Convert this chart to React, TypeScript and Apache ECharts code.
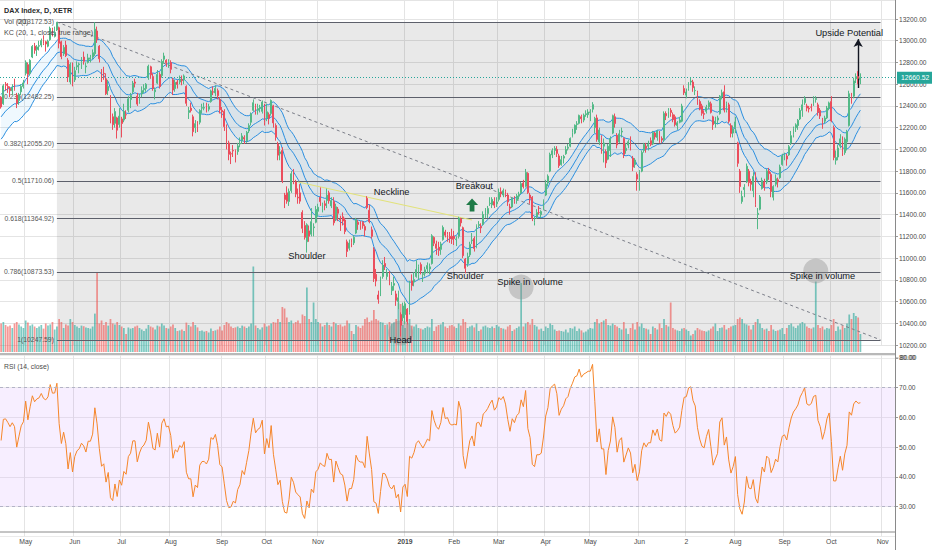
import React, { useEffect, useRef } from "react";
import * as echarts from "echarts";

const FONT = "'Liberation Sans', Arial, sans-serif";

// ---------- calendar ----------
const firstSession = "2018-04-16";
const sessionCount = 401;
const exchangeHolidays = [
  "2018-05-01", "2018-12-24", "2018-12-25", "2018-12-26", "2018-12-31",
  "2019-01-01", "2019-04-19", "2019-04-22", "2019-05-01",
];

// ---------- candles: [open, close, low, high] ----------
const apr2018 = [
  [12480, 12391, 12375, 12490], [12420, 12585, 12410, 12600], [12600, 12590, 12540, 12620],
  [12580, 12567, 12520, 12610], [12560, 12540, 12480, 12580], [12540, 12572, 12500, 12600],
  [12610, 12550, 12540, 12650], [12500, 12422, 12380, 12520], [12450, 12500, 12410, 12520],
  [12530, 12580, 12500, 12600], [12580, 12612, 12560, 12640],
];
const may2018 = [
  [12700, 12802, 12680, 12820], [12780, 12690, 12600, 12800], [12700, 12820, 12680, 12830],
  [12850, 12948, 12840, 12960], [12950, 12912, 12880, 12980], [12920, 12943, 12860, 12960],
  [12950, 12955, 12910, 13000], [12960, 13001, 12940, 13020], [13010, 12977, 12960, 13050],
  [12990, 12970, 12900, 13000], [12950, 12996, 12940, 13010], [13010, 13114, 13000, 13130],
  [13100, 13077, 13040, 13120], [13040, 13078, 13030, 13130], [13100, 13169, 13090, 13172],
  [13120, 12977, 12930, 13130], [12990, 12855, 12830, 13000], [12880, 12938, 12860, 12960],
  [12960, 12863, 12850, 13000], [12820, 12666, 12620, 12840], [12620, 12783, 12600, 12800],
  [12740, 12605, 12580, 12800],
];
const jun2018 = [
  [12640, 12724, 12620, 12760], [12760, 12771, 12730, 12810], [12780, 12787, 12700, 12800],
  [12800, 12830, 12740, 12850], [12850, 12811, 12780, 12900], [12760, 12767, 12700, 12800],
  [12800, 12842, 12790, 12880], [12830, 12842, 12800, 12870], [12850, 12890, 12830, 12920],
  [12880, 13107, 12860, 13170], [13090, 13010, 12980, 13130], [12950, 12834, 12800, 12960],
  [12700, 12677, 12620, 12740], [12700, 12695, 12640, 12760], [12650, 12512, 12500, 12700],
  [12540, 12580, 12500, 12640], [12490, 12270, 12240, 12500], [12300, 12228, 12180, 12330],
  [12240, 12348, 12200, 12380], [12290, 12177, 12100, 12300], [12230, 12306, 12200, 12380],
];
const jul2018 = [
  [12280, 12238, 12110, 12300], [12270, 12349, 12250, 12420], [12320, 12317, 12280, 12360],
  [12360, 12465, 12340, 12490], [12460, 12496, 12380, 12520], [12530, 12609, 12510, 12630],
  [12620, 12609, 12570, 12650], [12490, 12417, 12400, 12520], [12440, 12492, 12420, 12510],
  [12510, 12541, 12480, 12580], [12550, 12561, 12520, 12600], [12560, 12600, 12530, 12610],
  [12660, 12765, 12640, 12780], [12760, 12686, 12650, 12770], [12670, 12561, 12540, 12700],
  [12530, 12548, 12460, 12570], [12610, 12690, 12600, 12730], [12690, 12579, 12560, 12710],
  [12680, 12810, 12660, 12830], [12830, 12860, 12790, 12890], [12820, 12798, 12760, 12830],
  [12780, 12806, 12750, 12830],
];
const aug2018 = [
  [12800, 12737, 12700, 12820], [12640, 12546, 12500, 12660], [12560, 12616, 12530, 12640],
  [12620, 12598, 12560, 12640], [12620, 12648, 12600, 12680], [12640, 12633, 12590, 12680],
  [12640, 12676, 12600, 12690], [12580, 12424, 12400, 12590], [12340, 12358, 12280, 12390],
  [12380, 12358, 12340, 12430], [12300, 12163, 12120, 12320], [12200, 12237, 12150, 12270],
  [12240, 12210, 12160, 12260], [12250, 12358, 12230, 12370], [12380, 12384, 12330, 12420],
  [12380, 12385, 12360, 12430], [12400, 12365, 12340, 12430], [12370, 12394, 12350, 12420],
  [12440, 12538, 12430, 12550], [12530, 12527, 12500, 12580], [12520, 12561, 12490, 12590],
  [12540, 12494, 12460, 12560], [12460, 12364, 12330, 12480],
];
const sep2018 = [
  [12360, 12346, 12290, 12390], [12350, 12210, 12170, 12370], [12200, 12040, 12000, 12230],
  [12060, 11955, 11900, 12080], [11960, 11959, 11865, 11980], [11990, 11986, 11930, 12040],
  [11990, 11970, 11880, 12000], [11980, 12032, 11950, 12060], [12050, 12055, 12020, 12110],
  [12080, 12124, 12050, 12150], [12110, 12096, 12050, 12130], [12080, 12157, 12060, 12170],
  [12170, 12219, 12150, 12240], [12250, 12326, 12220, 12340], [12360, 12430, 12350, 12460],
  [12400, 12350, 12320, 12420], [12360, 12374, 12320, 12420], [12380, 12385, 12340, 12410],
  [12350, 12435, 12330, 12450], [12380, 12246, 12220, 12420],
];
const oct2018 = [
  [12290, 12346, 12260, 12420], [12320, 12287, 12230, 12340], [12330, 12450, 12310, 12460],
  [12400, 12244, 12200, 12410], [12220, 12111, 12080, 12240], [12050, 11947, 11900, 12070],
  [11960, 11977, 11900, 12030], [11990, 11712, 11690, 12020], [11580, 11539, 11460, 11600],
  [11600, 11523, 11500, 11660], [11520, 11614, 11480, 11640], [11620, 11776, 11600, 11800],
  [11770, 11715, 11680, 11820], [11700, 11589, 11560, 11720], [11560, 11553, 11500, 11640],
  [11600, 11524, 11500, 11680], [11420, 11274, 11230, 11440], [11300, 11191, 11170, 11340],
  [11150, 11307, 11050, 11320], [11250, 11201, 11150, 11300], [11220, 11335, 11200, 11460],
  [11280, 11287, 11200, 11320], [11330, 11447, 11320, 11480],
];
const nov2018 = [
  [11430, 11468, 11380, 11500], [11560, 11519, 11480, 11650], [11460, 11495, 11420, 11510],
  [11500, 11484, 11440, 11530], [11530, 11579, 11460, 11640], [11600, 11527, 11500, 11620],
  [11480, 11529, 11460, 11560], [11520, 11325, 11300, 11560], [11360, 11472, 11340, 11500],
  [11450, 11412, 11340, 11470], [11360, 11353, 11250, 11390], [11380, 11341, 11300, 11420],
  [11350, 11244, 11220, 11370], [11150, 11061, 11010, 11170], [11090, 11138, 11070, 11170],
  [11140, 11138, 11100, 11180], [11140, 11192, 11120, 11210], [11230, 11354, 11220, 11370],
  [11330, 11310, 11260, 11350], [11310, 11298, 11260, 11340], [11330, 11298, 11270, 11340],
  [11290, 11257, 11200, 11310],
];
const dec2018 = [
  [11550, 11465, 11450, 11570], [11440, 11335, 11320, 11490], [11260, 11200, 11180, 11290],
  [11080, 10811, 10780, 11100], [10850, 10788, 10740, 10900], [10660, 10622, 10580, 10700],
  [10680, 10780, 10650, 10830], [10830, 10931, 10810, 10980], [10950, 10925, 10890, 11010],
  [10830, 10865, 10800, 10900], [10850, 10772, 10750, 10880], [10700, 10740, 10660, 10780],
  [10750, 10766, 10700, 10830], [10670, 10611, 10560, 10700], [10600, 10634, 10530, 10700],
  [10480, 10382, 10279, 10500], [10450, 10559, 10420, 10590],
];
const jan2019 = [
  [10480, 10580, 10390, 10600], [10530, 10416, 10390, 10540], [10500, 10768, 10480, 10790],
  [10790, 10747, 10700, 10850], [10780, 10803, 10740, 10870], [10830, 10894, 10820, 10980],
  [10850, 10921, 10800, 10940], [10940, 10887, 10850, 10960], [10850, 10856, 10780, 10870],
  [10860, 10892, 10830, 10920], [10900, 10931, 10860, 10960], [10900, 10919, 10850, 10950],
  [10950, 11205, 10940, 11220], [11190, 11136, 11110, 11200], [11130, 11090, 11030, 11160],
  [11100, 11071, 11020, 11150], [11080, 11130, 11030, 11150], [11170, 11282, 11160, 11300],
  [11240, 11210, 11190, 11260], [11220, 11219, 11150, 11240], [11200, 11181, 11140, 11240],
  [11200, 11173, 11130, 11270],
];
const feb2019 = [
  [11200, 11180, 11120, 11250], [11170, 11176, 11110, 11200], [11200, 11368, 11180, 11380],
  [11360, 11324, 11290, 11370], [11280, 11022, 11000, 11290], [10990, 10906, 10860, 11000],
  [10950, 11014, 10920, 11050], [11030, 11126, 11010, 11150], [11160, 11167, 11130, 11230],
  [11180, 11089, 11060, 11200], [11100, 11299, 11090, 11310], [11300, 11309, 11280, 11340],
  [11290, 11278, 11230, 11320], [11310, 11401, 11300, 11430], [11390, 11423, 11370, 11460],
  [11410, 11457, 11370, 11480], [11500, 11505, 11480, 11560], [11490, 11540, 11460, 11560],
  [11520, 11487, 11460, 11560], [11500, 11516, 11470, 11560],
];
const mar2019 = [
  [11540, 11602, 11520, 11640], [11610, 11592, 11560, 11650], [11580, 11620, 11560, 11640],
  [11610, 11587, 11560, 11630], [11580, 11517, 11480, 11600], [11470, 11458, 11400, 11500],
  [11470, 11543, 11460, 11560], [11550, 11524, 11500, 11570], [11530, 11572, 11500, 11590],
  [11570, 11587, 11540, 11610], [11600, 11685, 11590, 11700], [11690, 11657, 11640, 11720],
  [11660, 11788, 11650, 11820], [11780, 11603, 11590, 11790], [11580, 11550, 11500, 11600],
  [11560, 11364, 11340, 11570], [11330, 11346, 11300, 11380], [11380, 11419, 11360, 11450],
  [11420, 11419, 11400, 11480], [11400, 11428, 11370, 11440], [11450, 11526, 11440, 11540],
];
const apr2019 = [
  [11580, 11681, 11570, 11720], [11690, 11754, 11660, 11770], [11800, 11954, 11790, 11970],
  [11950, 11988, 11920, 12010], [11990, 12009, 11950, 12030], [12000, 11963, 11930, 12030],
  [11940, 11850, 11830, 11960], [11860, 11905, 11850, 11940], [11920, 11935, 11870, 11950],
  [11960, 11999, 11950, 12030], [12010, 12020, 11990, 12050], [12030, 12101, 12020, 12110],
  [12120, 12153, 12110, 12190], [12150, 12222, 12140, 12230], [12230, 12235, 12180, 12260],
  [12240, 12313, 12230, 12320], [12300, 12282, 12240, 12320], [12270, 12315, 12250, 12330],
  [12320, 12328, 12300, 12360], [12320, 12344, 12290, 12370],
];
const may2019 = [
  [12340, 12345, 12260, 12370], [12370, 12412, 12340, 12435], [12200, 12286, 12150, 12300],
  [12290, 12092, 12070, 12320], [12070, 12179, 12040, 12200], [12110, 12059, 11960, 12130],
  [12030, 12059, 11880, 12100], [11980, 11876, 11830, 12000], [11910, 12029, 11900, 12050],
  [11990, 12099, 11930, 12120], [12150, 12310, 12140, 12320], [12300, 12238, 12200, 12330],
  [12130, 12041, 12010, 12150], [12070, 12143, 12060, 12180], [12160, 12168, 12110, 12200],
  [12100, 11952, 11920, 12110], [11990, 12011, 11960, 12060], [12040, 12071, 12010, 12090],
  [12080, 12027, 11990, 12120], [11920, 11837, 11800, 11940], [11860, 11902, 11830, 11920],
  [11770, 11727, 11620, 11790],
];
const jun2019 = [
  [11740, 11793, 11620, 11810], [11800, 11971, 11790, 11990], [11990, 12045, 11970, 12060],
  [12030, 12009, 11970, 12060], [12030, 12045, 11990, 12080], [12080, 12045, 12030, 12110],
  [12050, 12155, 12040, 12170], [12150, 12115, 12090, 12160], [12110, 12169, 12080, 12180],
  [12160, 12096, 12060, 12170], [12100, 12086, 12060, 12120], [12090, 12331, 12070, 12350],
  [12330, 12309, 12270, 12350], [12350, 12355, 12290, 12380], [12360, 12340, 12300, 12380],
  [12320, 12274, 12250, 12340], [12300, 12228, 12210, 12320], [12220, 12245, 12180, 12260],
  [12250, 12271, 12240, 12300], [12260, 12399, 12250, 12420],
];
const jul2019 = [
  [12560, 12521, 12500, 12590], [12500, 12528, 12470, 12560], [12560, 12616, 12540, 12620],
  [12620, 12629, 12590, 12660], [12620, 12568, 12530, 12640], [12540, 12543, 12500, 12580],
  [12520, 12436, 12410, 12540], [12440, 12373, 12360, 12460], [12400, 12332, 12310, 12420],
  [12330, 12323, 12280, 12360], [12350, 12387, 12330, 12410], [12390, 12430, 12370, 12450],
  [12420, 12341, 12330, 12440], [12300, 12227, 12180, 12310], [12240, 12260, 12200, 12300],
  [12270, 12289, 12230, 12310], [12330, 12490, 12320, 12500], [12490, 12522, 12460, 12550],
  [12530, 12362, 12340, 12590], [12360, 12419, 12340, 12440], [12410, 12258, 12240, 12430],
  [12220, 12147, 12110, 12240], [12150, 12189, 12110, 12220],
];
const aug2019 = [
  [12200, 12253, 12150, 12300], [12060, 11872, 11840, 12070], [11800, 11658, 11600, 11820],
  [11520, 11567, 11500, 11620], [11630, 11650, 11560, 11680], [11700, 11845, 11690, 11870],
  [11800, 11694, 11660, 11820], [11700, 11679, 11620, 11730], [11620, 11750, 11560, 11790],
  [11780, 11493, 11470, 11790], [11400, 11412, 11266, 11460], [11450, 11562, 11440, 11580],
  [11640, 11715, 11630, 11740], [11700, 11652, 11620, 11730], [11700, 11802, 11680, 11820],
  [11800, 11777, 11720, 11830], [11770, 11612, 11560, 11790], [11560, 11658, 11530, 11670],
  [11680, 11730, 11660, 11770], [11720, 11701, 11650, 11740], [11740, 11838, 11730, 11860],
  [11860, 11939, 11850, 11960],
];
const sep2019 = [
  [11940, 11953, 11900, 11970], [11940, 11911, 11850, 11960], [11950, 12025, 11940, 12040],
  [12060, 12126, 12040, 12170], [12140, 12192, 12110, 12210], [12200, 12226, 12160, 12240],
  [12220, 12268, 12180, 12280], [12280, 12359, 12270, 12380], [12360, 12410, 12300, 12460],
  [12430, 12469, 12410, 12490], [12400, 12380, 12350, 12420], [12380, 12372, 12340, 12400],
  [12390, 12389, 12350, 12420], [12420, 12457, 12400, 12490], [12460, 12468, 12430, 12490],
  [12410, 12342, 12310, 12430], [12360, 12307, 12280, 12380], [12250, 12234, 12190, 12290],
  [12260, 12288, 12240, 12310], [12290, 12381, 12280, 12400], [12380, 12428, 12360, 12440],
];
const oct2019 = [
  [12440, 12263, 12250, 12490], [12200, 11925, 11900, 12220], [11900, 11925, 11860, 11990],
  [11930, 12013, 11900, 12040], [12030, 12097, 12010, 12140], [12080, 11970, 11940, 12120],
  [11970, 12094, 11950, 12110], [12070, 12164, 11990, 12180], [12220, 12512, 12210, 12540],
  [12490, 12486, 12420, 12520], [12490, 12630, 12470, 12660], [12650, 12670, 12610, 12700],
  [12670, 12654, 12600, 12720], [12640, 12660.52, 12600, 12700],
];

// ---------- volume (millions) ----------
const volApr2018 = [95, 100, 90, 85, 88, 80, 95, 100, 92, 85, 80];
const volMay2018 = [105, 98, 88, 92, 85, 80, 85, 90, 78, 95, 88, 92, 100, 75, 85, 110, 100, 80, 92, 88, 110, 100];
const volJun2018 = [90, 85, 80, 88, 86, 82, 80, 78, 85, 128, 265, 95, 105, 90, 100, 88, 110, 95, 92, 100, 90];
const volJul2018 = [85, 80, 60, 82, 78, 80, 85, 88, 80, 75, 70, 78, 90, 85, 82, 75, 88, 85, 95, 88, 80, 78];
const volAug2018 = [85, 92, 80, 70, 72, 75, 70, 98, 90, 85, 100, 90, 82, 70, 72, 68, 70, 65, 78, 70, 72, 75, 85];
const volSep2018 = [72, 90, 100, 95, 85, 80, 82, 85, 80, 88, 85, 80, 85, 95, 285, 88, 80, 75, 82, 95];
const volOct2018 = [85, 88, 95, 100, 98, 110, 100, 150, 145, 115, 100, 105, 95, 100, 105, 95, 125, 120, 215, 110, 100, 165, 110];
const volNov2018 = [100, 95, 85, 90, 98, 90, 85, 100, 95, 90, 92, 85, 88, 105, 95, 70, 60, 90, 85, 80, 88, 110];
const volDec2018 = [115, 100, 105, 140, 110, 105, 100, 98, 90, 92, 100, 95, 98, 110, 165, 160, 90];
const volJan2019 = [80, 95, 110, 88, 85, 92, 80, 78, 75, 80, 85, 82, 110, 70, 85, 90, 92, 100, 85, 80, 88, 90];
const volFeb2019 = [85, 80, 95, 88, 110, 100, 80, 85, 88, 82, 95, 70, 75, 85, 88, 82, 80, 85, 80, 90];
const volMar2019 = [85, 80, 78, 75, 85, 90, 70, 75, 80, 85, 230, 85, 95, 100, 92, 110, 90, 85, 75, 78, 70];
const volApr2019 = [85, 80, 95, 90, 75, 70, 72, 70, 68, 75, 65, 80, 78, 85, 70, 78, 72, 65, 68, 75];
const volMay2019 = [80, 78, 100, 110, 95, 100, 105, 110, 90, 88, 95, 90, 85, 80, 75, 100, 78, 60, 80, 95, 75, 100];
const volJun2019 = [85, 95, 80, 78, 75, 60, 85, 80, 75, 95, 80, 110, 90, 85, 165, 80, 75, 72, 70, 78];
const volJul2019 = [80, 75, 70, 55, 60, 72, 80, 75, 72, 70, 68, 72, 78, 85, 95, 70, 80, 82, 90, 75, 80, 85, 88];
const volAug2019 = [90, 110, 115, 110, 95, 92, 88, 75, 90, 100, 110, 95, 80, 75, 78, 70, 90, 75, 70, 72, 75, 80];
const volSep2019 = [60, 80, 90, 95, 85, 80, 88, 95, 100, 95, 85, 80, 78, 82, 235, 90, 80, 85, 75, 80, 78];
const volOct2019 = [90, 110, 70, 85, 75, 88, 80, 95, 125, 110, 130, 120, 115, 60];

// ---------- indicator seeds (state before first bar) ----------
const seedPrevClose = 12442;
const kcSeedMid = 12290;
const kcSeedRange = 215;
const rsiSeedGain = 48;
const rsiSeedLoss = 40;

// ---------- axis ticks ----------
const monthTicks: [string, string][] = [
  ["2018-05-02", "May"], ["2018-06-01", "Jun"], ["2018-07-02", "Jul"], ["2018-08-01", "Aug"],
  ["2018-09-03", "Sep"], ["2018-10-01", "Oct"], ["2018-11-01", "Nov"], ["2019-01-02", "2019"],
  ["2019-02-01", "Feb"], ["2019-03-01", "Mar"], ["2019-04-01", "Apr"], ["2019-05-02", "May"],
  ["2019-06-03", "Jun"], ["2019-07-02", "2"], ["2019-08-01", "Aug"], ["2019-09-02", "Sep"],
  ["2019-10-01", "Oct"], ["2019-11-01", "Nov"],
];
const rsiTopTick = 80;

// ---------- drawings ----------
const fibLevels: [string, number][] = [
  ["0", 13172.53], ["0.236", 12482.25], ["0.382", 12055.2], ["0.5", 11710.06],
  ["0.618", 11364.92], ["0.786", 10873.53], ["1", 10247.59],
];
const fibStartDate = "2018-05-22";
const fibEndDate = "2019-10-31";
const lastPrice = 12660.52;
const neckline: [string, number][] = [["2018-10-19", 11700], ["2019-02-13", 11350]];
const upsideArrow: [string, number][] = [["2019-10-17", 12565], ["2019-10-17", 13015]];
const breakoutArrow: [string, number] = ["2019-02-13", 11488];
const highlightCircles: [string, number][] = [
  ["2018-12-27", 10311], ["2019-03-15", 10734], ["2019-09-20", 10881],
];
const annotations: [string, number, string][] = [
  ["2018-12-18", 11608, "Neckline"],
  ["2019-02-14", 11663, "Breakout"],
  ["2018-10-25", 11019, "Shoulder"],
  ["2019-02-08", 10835, "Shoulder"],
  ["2018-12-27", 10246, "Head"],
  ["2019-03-21", 10780, "Spike in volume"],
  ["2019-09-25", 10835, "Spike in volume"],
  ["2019-10-11", 13071, "Upside Potential"],
];

const candles = [
  ...apr2018, ...may2018, ...jun2018, ...jul2018, ...aug2018, ...sep2018, ...oct2018,
  ...nov2018, ...dec2018, ...jan2019, ...feb2019, ...mar2019, ...apr2019, ...may2019,
  ...jun2019, ...jul2019, ...aug2019, ...sep2019, ...oct2019,
];
const volumes = [
  ...volApr2018, ...volMay2018, ...volJun2018, ...volJul2018, ...volAug2018, ...volSep2018,
  ...volOct2018, ...volNov2018, ...volDec2018, ...volJan2019, ...volFeb2019, ...volMar2019,
  ...volApr2019, ...volMay2019, ...volJun2019, ...volJul2019, ...volAug2019, ...volSep2019,
  ...volOct2019,
];

function buildSessions(): string[] {
  const out: string[] = [];
  const hol = new Set(exchangeHolidays);
  const d = new Date(firstSession + "T00:00:00Z");
  while (out.length < sessionCount) {
    const wd = d.getUTCDay();
    const s = d.toISOString().slice(0, 10);
    if (wd !== 0 && wd !== 6 && !hol.has(s)) out.push(s);
    d.setUTCDate(d.getUTCDate() + 1);
  }
  return out;
}

function keltner() {
  const a = 2 / 21;
  let mid = kcSeedMid;
  let rng = kcSeedRange;
  let prev = seedPrevClose;
  const up: number[] = [], md: number[] = [], lo: number[] = [], width: number[] = [];
  for (const [, c, l, h] of candles) {
    const tr = Math.max(h - l, Math.abs(h - prev), Math.abs(l - prev));
    mid = mid + a * (c - mid);
    rng = rng + a * (tr - rng);
    up.push(+(mid + rng).toFixed(2));
    md.push(+mid.toFixed(2));
    lo.push(+(mid - rng).toFixed(2));
    width.push(+(2 * rng).toFixed(2));
    prev = c;
  }
  return { up, md, lo, width };
}

function rsi14() {
  let ag = rsiSeedGain, al = rsiSeedLoss, prev = seedPrevClose;
  const out: number[] = [];
  for (const [, c] of candles) {
    const ch = c - prev;
    ag = (ag * 13 + Math.max(ch, 0)) / 14;
    al = (al * 13 + Math.max(-ch, 0)) / 14;
    out.push(+(100 - 100 / (1 + ag / al)).toFixed(2));
    prev = c;
  }
  return out;
}

const axisText = "#4a4a4a";

function buildOption() {
  const sessions = buildSessions();
  const tickMap = new Map(monthTicks);
  const tickInterval = (_i: number, v: string) => tickMap.has(v);
  const kc = keltner();
  const rsi = rsi14();

  const UP = "#53b987";
  const DOWN = "#eb4d5c";
  const gridLine = { color: "#e4e4e4", width: 1 };

  const volData = volumes.map((v, i) => ({
    value: v,
    itemStyle: {
      color: candles[i][1] >= candles[i][0] ? "rgba(38,166,154,0.6)" : "rgba(239,83,80,0.6)",
    },
  }));

  const fibLines = fibLevels.map(([r, p]) => [
    {
      coord: [fibStartDate, p],
      lineStyle: { color: "#5d606b", width: 1, type: "solid" },
      label: {
        show: true, position: "start", distance: 3, formatter: `${r}(${p.toFixed(2)})`,
        fontSize: 6.8, color: "#555", fontFamily: FONT,
      },
    },
    { coord: [fibEndDate, p] },
  ]);

  const markLines: any[] = [
    ...fibLines,
    [
      { coord: [fibStartDate, fibLevels[0][1]], lineStyle: { color: "#7b7e88", width: 1, type: [3, 3] } },
      { coord: [fibEndDate, fibLevels[fibLevels.length - 1][1]] },
    ],
    [
      { coord: neckline[0], lineStyle: { color: "#e2e27c", width: 1.2, type: "solid" } },
      { coord: neckline[1] },
    ],
    {
      yAxis: lastPrice,
      lineStyle: { color: "#26a69a", width: 1, type: [1, 2] },
      label: {
        show: true, position: "end", distance: 2, formatter: lastPrice.toFixed(2),
        backgroundColor: "#26a69a", color: "#fff", padding: [3, 4, 2, 4], fontSize: 6.8,
        fontFamily: FONT,
      },
    },
    [
      { coord: upsideArrow[0], symbol: "none", lineStyle: { color: "#131722", width: 1.4, type: "solid" } },
      { coord: upsideArrow[1], symbol: "arrow", symbolSize: [7, 8] },
    ],
  ];

  const markPoints: any[] = [
    ...highlightCircles.map(([d, p]) => ({
      coord: [d, p], symbol: "circle", symbolSize: 25,
      itemStyle: { color: "rgba(140,140,140,0.38)" }, label: { show: false },
    })),
    {
      coord: breakoutArrow,
      symbol: "path://M5,0 L10,6 L7,6 L7,12 L3,12 L3,6 L0,6 Z",
      symbolSize: [12, 13],
      itemStyle: { color: "#1f7a47" },
      label: { show: false },
    },
    ...annotations.map(([d, p, t]) => ({
      coord: [d, p], symbol: "circle", symbolSize: 1,
      itemStyle: { color: "rgba(0,0,0,0)" },
      label: {
        show: true, position: "inside", formatter: t, color: "#131722",
        fontSize: 9.3, fontFamily: FONT,
      },
    })),
  ];

  return {
    animation: false,
    textStyle: { fontFamily: FONT },
    grid: [
      { left: 0, width: 895, top: 0, height: 345 },
      { left: 0, width: 895, top: 202, height: 150 },
      { left: 0, width: 895, top: 355, height: 181.2 },
    ],
    xAxis: [
      {
        type: "category", gridIndex: 0, data: sessions, boundaryGap: true,
        axisLine: { show: false }, axisTick: { show: false }, axisLabel: { show: false },
        splitLine: { show: true, interval: tickInterval, lineStyle: gridLine },
      },
      { type: "category", gridIndex: 1, data: sessions, boundaryGap: true, show: false },
      {
        type: "category", gridIndex: 2, data: sessions, boundaryGap: true,
        axisLine: { show: false }, axisTick: { show: false },
        axisLabel: {
          interval: tickInterval, color: axisText, fontSize: 6.8, margin: 2,
          formatter: (v: string) => {
            const t = tickMap.get(v) || "";
            return t === "2019" ? "{b|2019}" : t;
          },
          rich: { b: { fontWeight: "bold", fontSize: 6.8, color: axisText, fontFamily: FONT } },
        },
        splitLine: { show: true, interval: tickInterval, lineStyle: gridLine },
      },
    ],
    yAxis: [
      {
        type: "value", gridIndex: 0, position: "right", min: 10200, max: 13374.9, interval: 200,
        axisLine: { show: false },
        axisTick: { show: true, length: 3, lineStyle: { color: "#9a9a9a" } },
        axisLabel: {
          color: axisText, fontSize: 6.6, margin: 4, showMaxLabel: false,
          formatter: (v: number) => v.toFixed(2),
        },
        splitLine: { show: true, lineStyle: gridLine },
      },
      { type: "value", gridIndex: 1, min: 0, max: 500, show: false },
      {
        type: "value", gridIndex: 2, position: "right", min: 20, max: 81, interval: 10,
        axisLine: { show: false },
        axisTick: { show: true, length: 3, lineStyle: { color: "#9a9a9a" } },
        axisLabel: {
          color: axisText, fontSize: 6.6, margin: 4, showMinLabel: false, showMaxLabel: false,
          formatter: (v: number) => v.toFixed(2),
        },
        splitLine: { show: true, lineStyle: { color: "#ebebeb", width: 1 } },
      },
    ],
    series: [
      {
        name: "fibFill", type: "line", xAxisIndex: 0, yAxisIndex: 0, data: [], z: 1, silent: true,
        markArea: {
          silent: true,
          itemStyle: { color: "rgba(0,0,0,0.085)" },
          data: [[
            { coord: [fibStartDate, fibLevels[0][1]] },
            { coord: [fibEndDate, fibLevels[fibLevels.length - 1][1]] },
          ]],
        },
      },
      {
        name: "Volume", type: "bar", xAxisIndex: 1, yAxisIndex: 1, data: volData,
        barWidth: "78%", z: 2, silent: true,
      },
      {
        name: "kcBase", type: "line", xAxisIndex: 0, yAxisIndex: 0, data: kc.lo, stack: "kc",
        symbol: "none", lineStyle: { width: 0, opacity: 0 }, z: 3, silent: true,
      },
      {
        name: "kcBand", type: "line", xAxisIndex: 0, yAxisIndex: 0, data: kc.width, stack: "kc",
        symbol: "none", lineStyle: { width: 0, opacity: 0 },
        areaStyle: { color: "rgba(33,150,243,0.1)" }, z: 3, silent: true,
      },
      ...[kc.up, kc.md, kc.lo].map((d, k) => ({
        name: "kc" + k, type: "line", xAxisIndex: 0, yAxisIndex: 0, data: d,
        symbol: "none", lineStyle: { color: "#2a8fe0", width: 1 }, z: 4, silent: true,
      })),
      {
        name: "DAX", type: "candlestick", xAxisIndex: 0, yAxisIndex: 0, data: candles,
        barWidth: "62%", z: 5, silent: true,
        itemStyle: { color: UP, color0: DOWN, borderColor: UP, borderColor0: DOWN, borderWidth: 1 },
      },
      {
        name: "drawings", type: "line", xAxisIndex: 0, yAxisIndex: 0, data: [], z: 6, silent: true,
        markLine: { silent: true, symbol: ["none", "none"], label: { show: false }, data: markLines },
        markPoint: { silent: true, data: markPoints },
      },
      {
        name: "RSI", type: "line", xAxisIndex: 2, yAxisIndex: 2, data: rsi, symbol: "none",
        lineStyle: { color: "#f5862a", width: 1 }, z: 4, silent: true,
        markArea: {
          silent: true,
          itemStyle: { color: "rgba(153,21,255,0.075)" },
          data: [[{ yAxis: 30 }, { yAxis: 70 }]],
        },
        markLine: {
          silent: true, symbol: ["none", "none"], label: { show: false },
          lineStyle: { color: "#b3b3c7", width: 1, type: [3, 3] },
          data: [{ yAxis: 70 }, { yAxis: 30 }],
        },
      },
    ],
    graphic: [
      { id: "g0", type: "text", x: 4, y: 10.5, z: 100, style: { text: "DAX Index, D, XETR", fontSize: 7.2, fontWeight: "bold", fill: "#2a2a2a", fontFamily: FONT, verticalAlign: "middle" } },
      { id: "g1", type: "text", x: 4, y: 21.8, z: 100, style: { text: "Vol (20)", fontSize: 7.1, fill: "#4a4a4a", fontFamily: FONT, verticalAlign: "middle" } },
      { id: "g2", type: "text", x: 4, y: 33, z: 100, style: { text: "KC (20, 1, close, true range)", fontSize: 7.1, fill: "#4a4a4a", fontFamily: FONT, verticalAlign: "middle" } },
      { id: "g3", type: "text", x: 4, y: 366, z: 100, style: { text: "RSI (14, close)", fontSize: 6.8, fill: "#4a4a4a", fontFamily: FONT, verticalAlign: "middle" } },
      { id: "g4", type: "line", z: 100, shape: { x1: 0, y1: 354, x2: 895, y2: 354 }, style: { stroke: "#a0a0a0", lineWidth: 1.6 } },
      { id: "g5", type: "line", z: 100, shape: { x1: 0, y1: 532, x2: 895, y2: 532 }, style: { stroke: "#8a8a8a", lineWidth: 1 } },
      { id: "g6", type: "line", z: 100, shape: { x1: 895.5, y1: 0, x2: 895.5, y2: 550 }, style: { stroke: "#8a8a8a", lineWidth: 1 } },
    ],
  };
}

export default function App() {
  const ref = useRef<HTMLDivElement>(null);
  useEffect(() => {
    if (!ref.current) return;
    const chart = echarts.init(ref.current, undefined, { renderer: "svg" });
    chart.setOption(buildOption() as any);
    const yTop = chart.convertToPixel({ yAxisIndex: 2 } as any, rsiTopTick) as number;
    if (typeof yTop === "number" && isFinite(yTop)) {
      chart.setOption({
        graphic: [
          {
            id: "rsiTopLabel", type: "text", x: 900, y: yTop, z: 100,
            style: {
              text: rsiTopTick.toFixed(2), fontSize: 6.6, fill: axisText, fontFamily: FONT,
              verticalAlign: "middle",
            },
          },
          {
            id: "rsiTopTick", type: "line", z: 100,
            shape: { x1: 895.5, y1: yTop, x2: 898.5, y2: yTop },
            style: { stroke: "#9a9a9a", lineWidth: 1 },
          },
        ],
      } as any);
    }
    return () => chart.dispose();
  }, []);
  return (
    <div
      ref={ref}
      style={{ position: "fixed", left: 0, top: 0, width: 932, height: 550, background: "#ffffff" }}
    />
  );
}
